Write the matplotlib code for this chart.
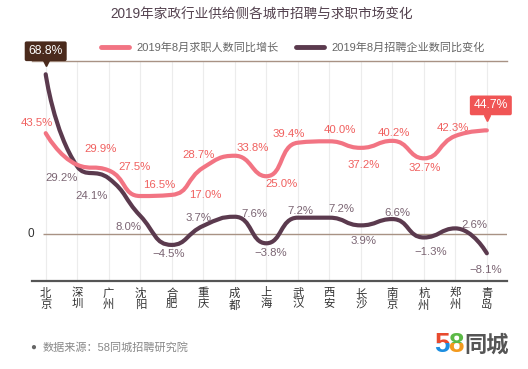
import matplotlib.pyplot as plt
import numpy as np
from matplotlib.path import Path
from matplotlib.patches import PathPatch, Rectangle
from matplotlib.transforms import offset_copy

plt.rcParams['font.family'] = ['Liberation Sans', 'Noto Sans CJK SC']

cities = ['北京', '深圳', '广州', '沈阳', '合肥', '重庆', '成都', '上海',
          '武汉', '西安', '长沙', '南京', '杭州', '郑州', '青岛']
job_seekers = [43.5, 29.9, 27.5, 16.5, 17.0, 28.7, 33.8, 25.0,
               39.4, 40.0, 37.2, 40.2, 32.7, 42.3, 44.7]
employers = [68.8, 29.2, 24.1, 8.0, -4.5, 3.7, 7.6, -3.8,
             7.2, 7.2, 3.9, 6.6, -1.3, 2.6, -8.1]
series_names = ['2019年8月求职人数同比增长', '2019年8月招聘企业数同比变化']
title = '2019年家政行业供给侧各城市招聘与求职市场变化'
source = '数据来源：58同城招聘研究院'

# where the value labels sit relative to each point (pixels, up is +)
pink_off = [(-9, 10), (23, 16), (26, 3), (19, 11), (34, 0), (-5, 13), (18, 8), (15, -8),
            (-9, 9), (11, 11), (3, -17), (2, 8), (1, -10), (-2, 8), (4, 25)]
purple_off = [(0, 23), (-16, -12), (-17, -18), (-12, -11), (-3, -9), (-5, 8), (20, 3), (4, -10),
              (3, 7), (12, 9), (3, -16), (5, 6), (7, -15), (19, 3), (-1, -17)]

PINK = '#f27483'
PURPLE = '#5b3a4e'
PINK_TXT = '#f0605f'
PURPLE_TXT = '#7b6573'


def smooth_path(ax, xs, ys, smooth=0.5):
    # echarts-like bezier smoothing, done in pixel space
    pts = ax.transData.transform(np.column_stack([xs, ys]))
    n = len(pts)
    verts = [tuple(pts[0])]
    codes = [Path.MOVETO]
    cp0 = tuple(pts[0])
    for i in range(1, n):
        x, y = pts[i]
        if i < n - 1:
            px, py = pts[i - 1]
            nx, ny = pts[i + 1]
            vx, vy = nx - px, ny - py
            l0 = np.hypot(x - px, y - py)
            l1 = np.hypot(nx - x, ny - y)
            r = l1 / (l0 + l1)
            ncx, ncy = x + vx * smooth * r, y + vy * smooth * r
            ncx = max(min(ncx, max(nx, x)), min(nx, x))
            ncy = max(min(ncy, max(ny, y)), min(ny, y))
            vx, vy = ncx - x, ncy - y
            c1x, c1y = x - vx * l0 / l1, y - vy * l0 / l1
            c1x = max(min(c1x, max(px, x)), min(px, x))
            c1y = max(min(c1y, max(py, y)), min(py, y))
            vx, vy = x - c1x, y - c1y
            ncx, ncy = x + vx * l1 / l0, y + vy * l1 / l0
            cp1 = (c1x, c1y)
            nxt = (ncx, ncy)
        else:
            cp1 = (x, y)
            nxt = None
        verts += [cp0, cp1, (x, y)]
        codes += [Path.CURVE4] * 3
        cp0 = nxt
    verts = ax.transData.inverted().transform(np.array(verts))
    return Path(verts, codes)


def fmt(v):
    return f'{v:.1f}%'.replace('-', '\u2212')


fig = plt.figure(figsize=(5.28, 3.69), dpi=100)
ax = fig.add_axes([32 / 528, 88 / 369, 475 / 528, 220 / 369])
xs = np.arange(len(cities))
ax.set_xlim(-0.435, 14.64)
ax.set_ylim(-20, 74.5)

ax.set_xticks(xs)
ax.set_xticklabels(['\n'.join(c) for c in cities], fontsize=8.2, linespacing=1.05, color='#333333')
ax.tick_params(axis='x', length=0, pad=5)
ax.set_yticks([])
ax.grid(axis='x', color='#ececec', lw=0.8)
ax.set_axisbelow(True)
for s in ['left', 'right']:
    ax.spines[s].set_visible(False)
ax.spines['top'].set_color('#a89284')
ax.spines['top'].set_linewidth(1)
ax.spines['bottom'].set_color('#555555')
ax.spines['bottom'].set_linewidth(1.6)

ax.hlines(0, -0.1, 14.64, color='#a89284', lw=1, zorder=1)
ax.text(-0.46, 0, '0', ha='center', va='center', fontsize=8.5, color='#333333')

ax.add_patch(PathPatch(smooth_path(ax, xs, employers), fill=False, ec=PURPLE, lw=3,
                       capstyle='round', joinstyle='round', zorder=3))
ax.add_patch(PathPatch(smooth_path(ax, xs, job_seekers), fill=False, ec=PINK, lw=3,
                       capstyle='round', joinstyle='round', zorder=4))

# legend handles
ax.plot([], [], color=PINK, lw=3.5, solid_capstyle='round', label=series_names[0])
ax.plot([], [], color=PURPLE, lw=3.5, solid_capstyle='round', label=series_names[1])
fig.legend(loc='center', bbox_to_anchor=(293 / 528, 1 - 48 / 369), ncol=2, frameon=False,
           fontsize=8, handlelength=2.5, handletextpad=0.7, columnspacing=1.6,
           labelcolor='#666666')

last = len(cities) - 1
for i in range(len(cities)):
    if i == last:
        continue
    ax.annotate(fmt(job_seekers[i]), (xs[i], job_seekers[i]), xytext=pink_off[i],
                textcoords='offset pixels', ha='center', va='center', fontsize=8.2,
                color=PINK_TXT, zorder=5)
    if i == 0:
        continue
    ax.annotate(fmt(employers[i]), (xs[i], employers[i]), xytext=purple_off[i],
                textcoords='offset pixels', ha='center', va='center', fontsize=8.2,
                color=PURPLE_TXT, zorder=5)

# callout boxes for the first purple and last pink value
ax.annotate(fmt(employers[last]), (xs[last], employers[last]), xytext=purple_off[last],
            textcoords='offset pixels', ha='center', va='center', fontsize=8.2,
            color=PURPLE_TXT, zorder=5)
ax.annotate(fmt(employers[0]), (xs[0], employers[0]), xytext=purple_off[0],
            textcoords='offset pixels', ha='center', va='center', fontsize=8.7,
            color='white', zorder=6, annotation_clip=False,
            bbox=dict(boxstyle='round,pad=0.32,rounding_size=0.15', fc='#4a2a1c', ec='none'))
ax.plot(xs[0], employers[0], marker='v', ms=5, color='#4a2a1c', zorder=6, clip_on=False,
        transform=offset_copy(ax.transData, fig, y=11, units='dots'))
ax.annotate(fmt(job_seekers[last]), (xs[last], job_seekers[last]), xytext=pink_off[last],
            textcoords='offset pixels', ha='center', va='center', fontsize=8.7,
            color='white', zorder=6,
            bbox=dict(boxstyle='round,pad=0.32,rounding_size=0.15', fc='#f05555', ec='none'))
ax.plot(xs[last], job_seekers[last], marker='v', ms=5, color='#f05555', zorder=6,
        transform=offset_copy(ax.transData, fig, y=12, units='dots'))

fig.text(262 / 528, 1 - 15 / 369, title, ha='center', va='center', fontsize=9.8,
         color='#54424f')
fig.text(33 / 528, 1 - 347 / 369, '●', ha='center', va='center', fontsize=7, color='#666666')
fig.text(43 / 528, 1 - 347 / 369, source, ha='left', va='center', fontsize=8, color='#888888')

# logo: two-tone digits (top part / bottom part clipped)
H = 369
logo_y = 1 - 345 / H
split = 1 - 343 / H
digit_style = dict(ha='left', va='center', fontsize=20, weight='bold', family='Liberation Sans')
for ch, x0, top_c, bot_c in [('5', 434, '#e84a2e', '#1d8ee0'), ('8', 448, '#5bb946', '#f39a1e')]:
    t = fig.text(x0 / 528, logo_y, ch, color=top_c, **digit_style)
    t.set_clip_path(Rectangle((0, split), 1, 1 - split, transform=fig.transFigure))
    b = fig.text(x0 / 528, logo_y, ch, color=bot_c, **digit_style)
    b.set_clip_path(Rectangle((0, 0), 1, split, transform=fig.transFigure))
fig.text(464 / 528, logo_y, '同城', ha='left', va='center', fontsize=16, weight='bold',
         color='#555555', family='Noto Sans CJK SC')

fig.savefig('out.png', dpi=100)
